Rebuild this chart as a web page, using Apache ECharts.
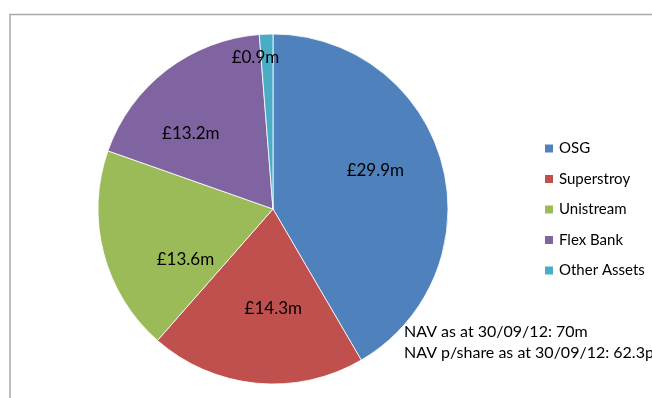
<!DOCTYPE html>
<html>
<head>
<meta charset="utf-8">
<script src="https://cdn.jsdelivr.net/npm/echarts@6/dist/echarts.min.js"></script>
<style>
html,body{margin:0;padding:0;background:#fff;}
#chart{width:652px;height:398px;}
</style>
</head>
<body>
<div id="chart"></div>
<script>
var categories = ['OSG', 'Superstroy', 'Unistream', 'Flex Bank', 'Other Assets'];
var values = [29.9, 14.3, 13.6, 13.2, 0.9];
var navLines = ['NAV as at 30/09/12: 70m', 'NAV p/share as at 30/09/12: 62.3p'];

var colors = ['#4F81BD', '#C0504D', '#9BBB59', '#8064A2', '#4BACC6'];
// label nudges (style only) to mimic Excel's best-fit label placement
var labelDx = [15, 9, 0, -27, -14];
var labelDy = [-15, 9, 28, -4, -61];

var FONT = 'Lato, "Open Sans", sans-serif';

var chart = echarts.init(document.getElementById('chart'), null, {renderer: 'canvas'});
chart.setOption({
  animation: false,
  color: colors,
  legend: {
    orient: 'vertical',
    left: 538,
    top: 136,
    itemWidth: 10,
    itemHeight: 10,
    itemGap: 15.5,
    icon: 'rect',
    selectedMode: false,
    textStyle: {fontFamily: FONT, fontSize: 15, color: '#000', lineHeight: 15},
    data: categories
  },
  graphic: [
    {
      type: 'rect',
      shape: {x: 10, y: 14.5, width: 800, height: 600},
      style: {fill: 'none', stroke: '#a9a9a9', lineWidth: 1.5},
      silent: true
    },
    {
      type: 'text',
      left: 404,
      top: 321,
      style: {
        text: navLines.join('\n'),
        fontFamily: FONT,
        fontSize: 16,
        lineHeight: 21,
        fill: '#000'
      },
      silent: true
    }
  ],
  series: [{
    type: 'pie',
    center: [273, 209],
    radius: 175,
    startAngle: 90,
    clockwise: true,
    avoidLabelOverlap: false,
    emphasis: {disabled: true},
    itemStyle: {borderColor: '#ffffff', borderWidth: 0.8},
    label: {
      show: true,
      position: 'inside',
      fontFamily: FONT,
      fontSize: 17,
      color: '#000',
      formatter: function (p) { return '\u00a3' + p.value + 'm'; }
    },
    labelLine: {show: false},
    labelLayout: function (p) {
      return {dx: labelDx[p.dataIndex], dy: labelDy[p.dataIndex]};
    },
    data: categories.map(function (c, i) { return {name: c, value: values[i]}; })
  }]
});
</script>
</body>
</html>
